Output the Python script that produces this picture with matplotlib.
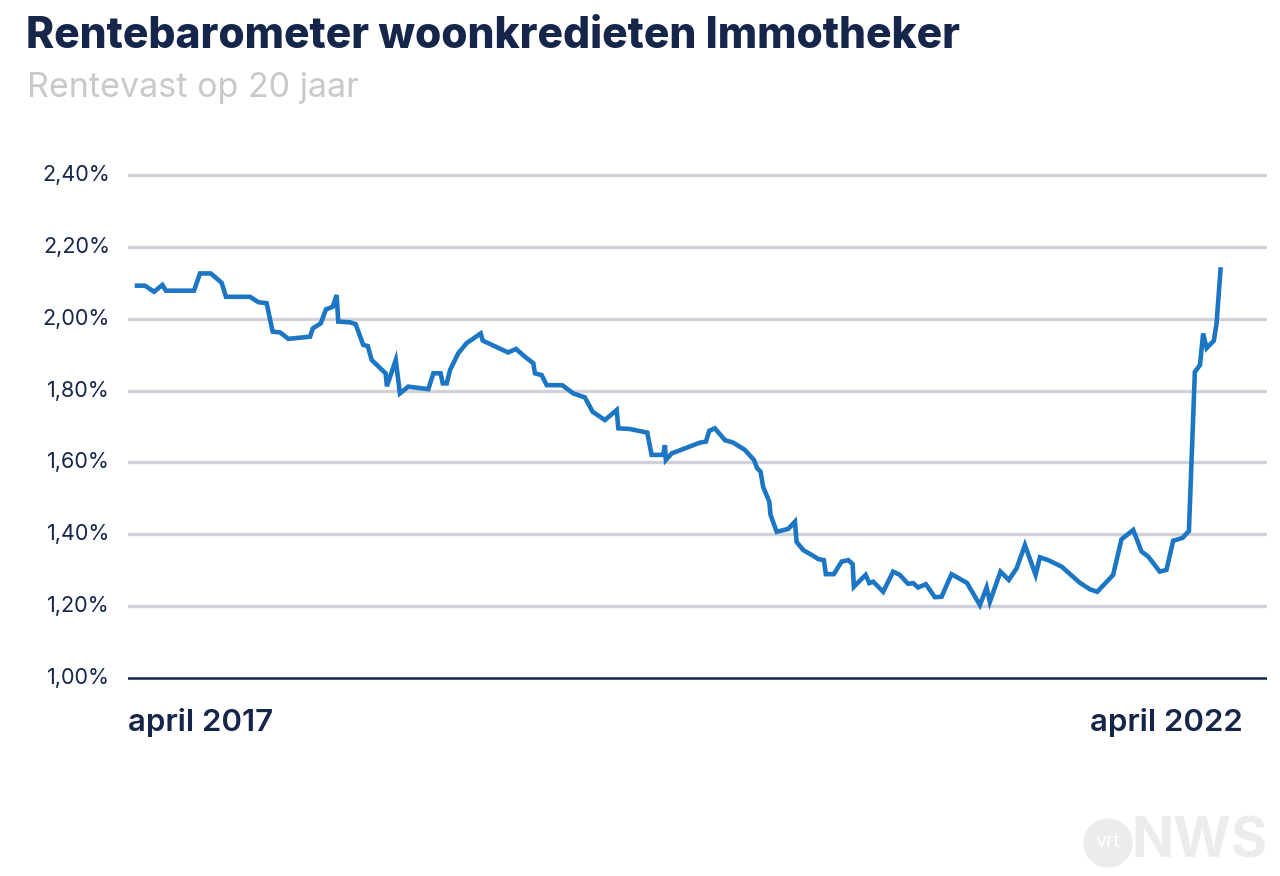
import matplotlib
matplotlib.use("Agg")
import matplotlib.pyplot as plt
from matplotlib.patches import Ellipse

# months since April 2017
months = [0.0, 0.44, 0.94, 1.40, 1.60, 3.15, 3.48, 4.08, 4.68, 4.92, 6.25, 6.71, 7.17,
          7.50, 7.91, 8.37, 9.57, 9.72, 10.16, 10.45, 10.82, 11.04, 11.13, 11.78, 12.09,
          12.51, 12.76, 12.98, 13.75, 13.82, 14.31, 14.54, 15.00, 16.11, 16.39, 16.79,
          16.91, 17.13, 17.31, 17.77, 18.23, 19.01, 19.12, 20.53, 20.96, 21.46, 21.92,
          22.01, 22.38, 22.66, 23.52, 24.13, 24.77, 25.20, 25.88, 26.53, 26.62, 27.26,
          28.22, 28.46, 29.10, 29.20, 29.25, 29.57, 30.30, 31.13, 31.47, 31.65, 31.96,
          32.20, 32.52, 32.98, 33.62, 34.12, 34.30, 34.49, 34.63, 34.97, 35.04, 35.38,
          36.02, 36.39, 36.48, 36.85, 37.40, 37.68, 37.99, 38.10, 38.54, 38.97, 39.34,
          39.58, 39.65, 40.30, 40.50, 40.72, 41.27, 41.82, 42.19, 42.65, 42.93, 43.20,
          43.63, 44.13, 44.50, 45.05, 45.90, 46.62, 46.99, 47.17, 47.76, 48.22, 48.65,
          49.11, 49.70, 49.94, 50.40, 51.14, 52.15, 52.70, 53.11, 53.99, 54.45, 55.10,
          55.56, 55.93, 56.57, 56.94, 57.31, 57.83, 58.18, 58.51, 58.79, 58.97, 59.16,
          59.56, 59.71, 59.93]
rates = [2.092, 2.092, 2.075, 2.094, 2.078, 2.078, 2.126, 2.126, 2.100, 2.061, 2.061, 2.046, 2.043,
         1.964, 1.962, 1.944, 1.950, 1.973, 1.987, 2.026, 2.033, 2.066, 1.992, 1.990, 1.985,
         1.927, 1.924, 1.885, 1.848, 1.812, 1.885, 1.792, 1.811, 1.804, 1.848, 1.848,
         1.820, 1.820, 1.857, 1.904, 1.932, 1.959, 1.939, 1.906, 1.916, 1.894, 1.876,
         1.848, 1.843, 1.815, 1.815, 1.792, 1.781, 1.741, 1.718, 1.746, 1.695, 1.693,
         1.683, 1.621, 1.621, 1.648, 1.607, 1.625, 1.639, 1.655, 1.658, 1.688, 1.695,
         1.681, 1.662, 1.655, 1.635, 1.607, 1.584, 1.574, 1.532, 1.491, 1.454, 1.407,
         1.415, 1.435, 1.379, 1.356, 1.340, 1.331, 1.328, 1.289, 1.289, 1.324, 1.328,
         1.317, 1.254, 1.287, 1.264, 1.268, 1.240, 1.296, 1.287, 1.262, 1.264, 1.252,
         1.261, 1.225, 1.226, 1.289, 1.265, 1.203, 1.252, 1.212, 1.296, 1.273, 1.305,
         1.370, 1.287, 1.336, 1.328, 1.310, 1.265, 1.247, 1.240, 1.287, 1.386, 1.412,
         1.352, 1.338, 1.296, 1.301, 1.382, 1.390, 1.409, 1.852, 1.871, 1.959, 1.918,
         1.939, 1.987, 2.137]

y_ticks = [1.0, 1.2, 1.4, 1.6, 1.8, 2.0, 2.2, 2.4]
y_labels = ["1,00%", "1,20%", "1,40%", "1,60%", "1,80%", "2,00%", "2,20%", "2,40%"]
x_labels = ["april 2017", "april 2022"]

NAVY = "#16264a"
GRID = "#cfd2d9"
LINE = "#1c76c4"
FONT = ["Inter", "DejaVu Sans"]
plt.rcParams["font.family"] = FONT

W, H = 1280, 876
fig = plt.figure(figsize=(W / 100, H / 100), dpi=100)

# axes spanning pixels x 128..1267; y mapped so 1.0 -> 678px, 2.4 -> 175px
ylo, yhi = 0.98, 2.42
ppu = 503 / 1.4
bottom_px = 678 + (1.0 - ylo) * ppu
top_px = 175 - (yhi - 2.4) * ppu
ax = fig.add_axes([128 / W, 1 - bottom_px / H, 1139 / W, (bottom_px - top_px) / H])
ax.set_xlim(-0.5, 62.5)
ax.set_ylim(ylo, yhi)

for v in y_ticks[1:]:
    ax.axhline(v, color=GRID, lw=2.4, zorder=1)
ax.axhline(y_ticks[0], color=NAVY, lw=1.8, zorder=3)

ax.plot(months, rates, color=LINE, lw=3.3, solid_joinstyle="miter", zorder=4)

for s in ax.spines.values():
    s.set_visible(False)
ax.set_xticks([])
ax.set_yticks([])

for v, lab in zip(y_ticks, y_labels):
    ax.text(-1.5, v, lab, ha="right", va="center", fontsize=15.5, color=NAVY)

ax.text(-0.5, 0.875, x_labels[0], ha="left", va="center", fontsize=22.5,
        fontweight="semibold", color=NAVY)
ax.text(61.15, 0.875, x_labels[1], ha="right", va="center", fontsize=22.5,
        fontweight="semibold", color=NAVY)

fig.text(26 / W, 1 - 36 / H, "Rentebarometer woonkredieten Immotheker", ha="left",
         va="center", fontsize=30.6, fontweight="heavy", color=NAVY)
fig.text(27 / W, 1 - 88 / H, "Rentevast op 20 jaar", ha="left", va="center",
         fontsize=24.5, color="#c9c9cb")

# logo
LOGO = "#ececec"
circ = Ellipse((1108 / W, 1 - 843 / H), 48 / W, 48 / H, transform=fig.transFigure,
               color=LOGO, zorder=0)
fig.patches.append(circ)
fig.text(1108 / W, 1 - 842 / H, "vrt", ha="center", va="center", fontsize=14,
         color="white")
fig.text(1131 / W, 1 - 843 / H, "NWS", ha="left", va="center", fontsize=40,
         fontweight="bold", color=LOGO)

fig.savefig("out.png", dpi=100, facecolor="white")
